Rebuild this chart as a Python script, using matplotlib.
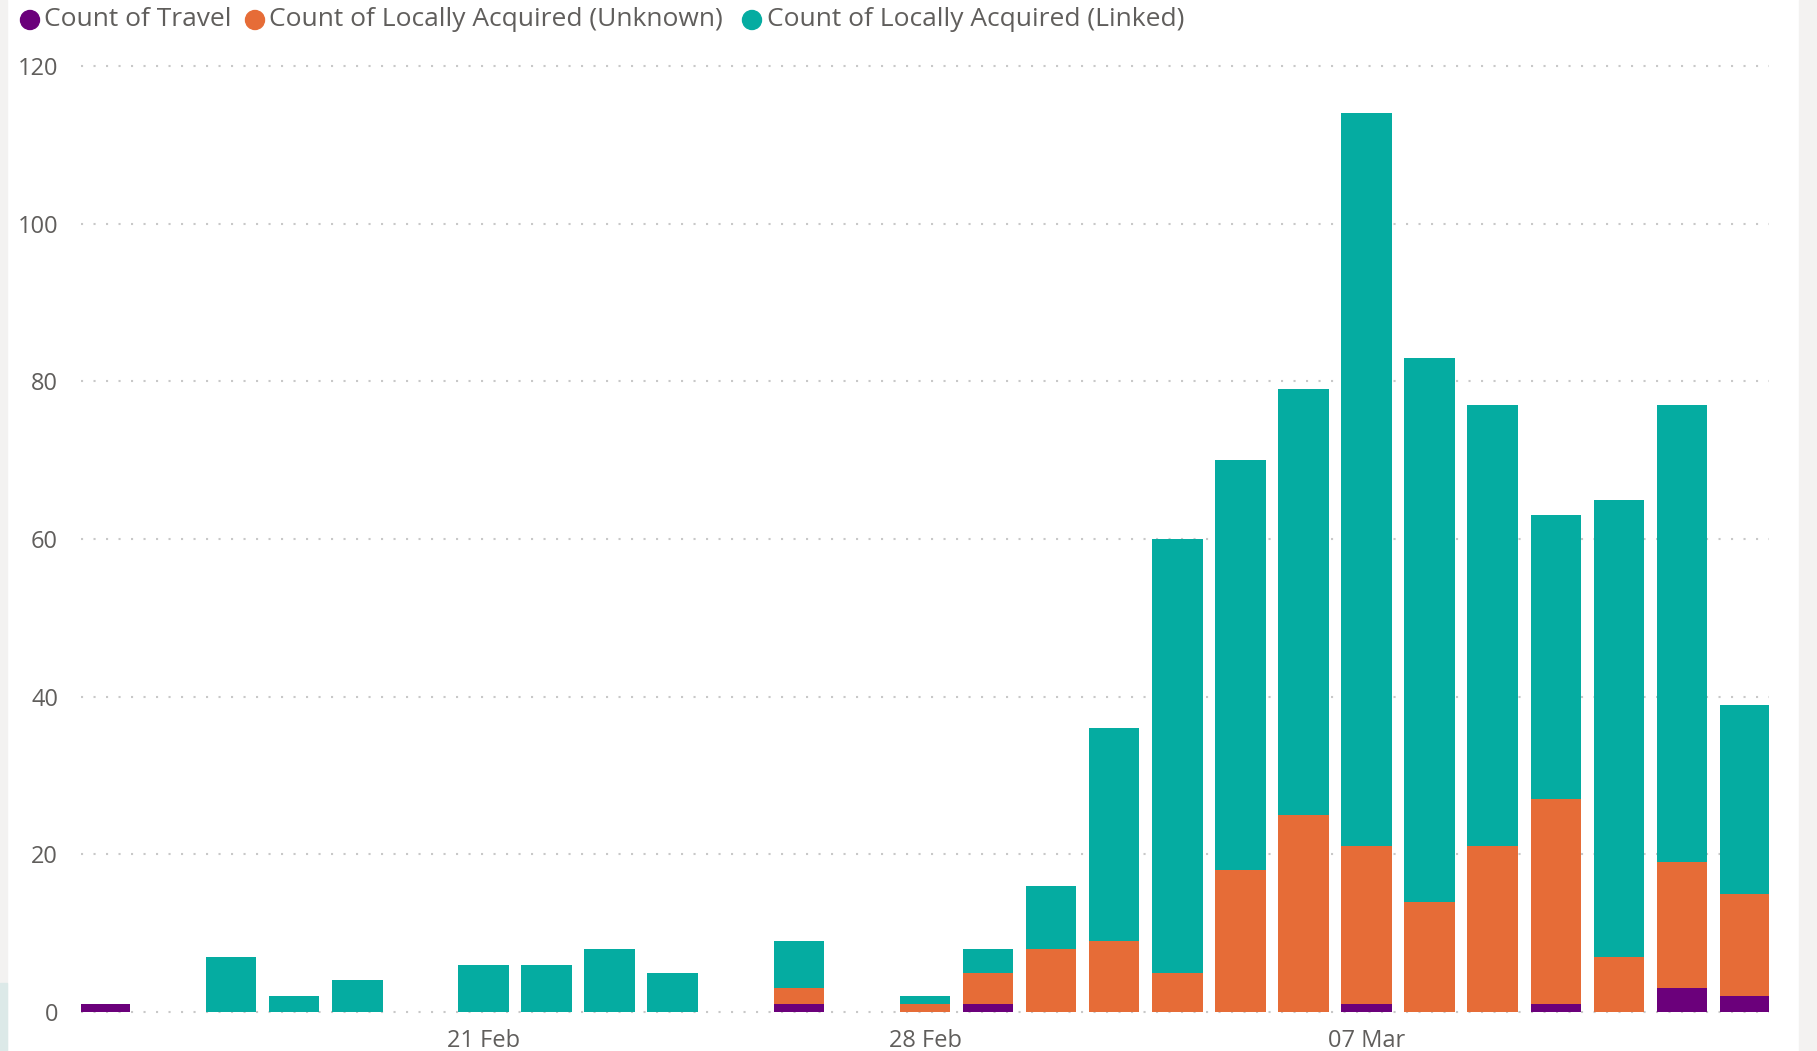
import matplotlib
matplotlib.use("Agg")
import matplotlib.pyplot as plt
from matplotlib.patches import Rectangle, Circle
import numpy as np

dates = ["15 Feb", "16 Feb", "17 Feb", "18 Feb", "19 Feb", "20 Feb", "21 Feb", "22 Feb",
         "23 Feb", "24 Feb", "25 Feb", "26 Feb", "27 Feb", "28 Feb", "01 Mar", "02 Mar",
         "03 Mar", "04 Mar", "05 Mar", "06 Mar", "07 Mar", "08 Mar", "09 Mar", "10 Mar",
         "11 Mar", "12 Mar", "13 Mar"]
travel = [1, 0, 0, 0, 0, 0, 0, 0, 0, 0, 0, 1, 0, 0, 1, 0, 0, 0, 0, 0, 1, 0, 0, 1, 0, 3, 2]
unknown = [0, 0, 0, 0, 0, 0, 0, 0, 0, 0, 0, 2, 0, 1, 4, 8, 9, 5, 18, 25, 20, 14, 21, 26, 7, 16, 13]
linked = [0, 0, 7, 2, 4, 0, 6, 6, 8, 5, 0, 6, 0, 1, 3, 8, 27, 55, 52, 54, 93, 69, 56, 36, 58, 58, 24]
series_names = ["Count of Travel", "Count of Locally Acquired (Unknown)", "Count of Locally Acquired (Linked)"]
xtick_labels = ["21 Feb", "28 Feb", "07 Mar"]
yticks = [0, 20, 40, 60, 80, 100, 120]

colors = ["#6B007B", "#E66C37", "#05ACA1"]
txt = "#605E5C"
font = "Open Sans"

W, H = 1817, 1051
fig = plt.figure(figsize=(W / 100, H / 100), dpi=100)
fig.patch.set_facecolor("white")
# side strips
fig.patches.append(Rectangle((0, 0), 7 / W, 1, transform=fig.transFigure, color="#F3F2F1", zorder=0))
fig.patches.append(Rectangle((0, 0), 7 / W, (H - 983) / H, transform=fig.transFigure, color="#DCE9E8", zorder=0))
fig.patches.append(Rectangle((1799 / W, 0), (W - 1799) / W, 1, transform=fig.transFigure, color="#F3F2F1", zorder=0))

left, right = 81 / W, 1769 / W
bottom, top = 1 - 1012 / H, 1 - 66 / H
ax = fig.add_axes([left, bottom, right - left, top - bottom])
ax.set_facecolor("none")

x = np.arange(len(dates))
t = np.array(travel)
u = np.array(unknown)
l = np.array(linked)
w = 0.8
ax.bar(x, t, width=w, color=colors[0], zorder=3)
ax.bar(x, u, width=w, bottom=t, color=colors[1], zorder=3)
ax.bar(x, l, width=w, bottom=t + u, color=colors[2], zorder=3)

ax.set_xlim(-0.38, 26.38)
ax.set_ylim(0, 120)
ax.set_yticks(yticks)
ax.set_yticklabels([str(v) for v in yticks])
tick_pos = [dates.index(s) for s in xtick_labels]
ax.set_xticks(tick_pos)
ax.set_xticklabels(xtick_labels)
for v in yticks:
    ax.axhline(v, color="#C8C8C8", linewidth=1.5, linestyle=(0, (1, 5)), zorder=1, clip_on=False)
for s in ax.spines.values():
    s.set_visible(False)
ax.tick_params(axis="both", length=0, colors=txt, labelsize=17)
ax.tick_params(axis="y", pad=16.5)
ax.tick_params(axis="x", pad=12)
for lab in ax.get_xticklabels() + ax.get_yticklabels():
    lab.set_fontfamily(font)

# legend
leg_circle_x = [30, 255, 752]
leg_text_x = [44, 269, 767]
ly = 1 - 20 / H
for cx, tx, c, name in zip(leg_circle_x, leg_text_x, colors, series_names):
    fig.patches.append(Circle((cx, H - 20), 9.5, transform=None, color=c, zorder=5))
    fig.text(tx / W, ly, name, fontsize=19, color=txt, family=font, va="center", ha="left")

fig.savefig("out.png", dpi=100)
